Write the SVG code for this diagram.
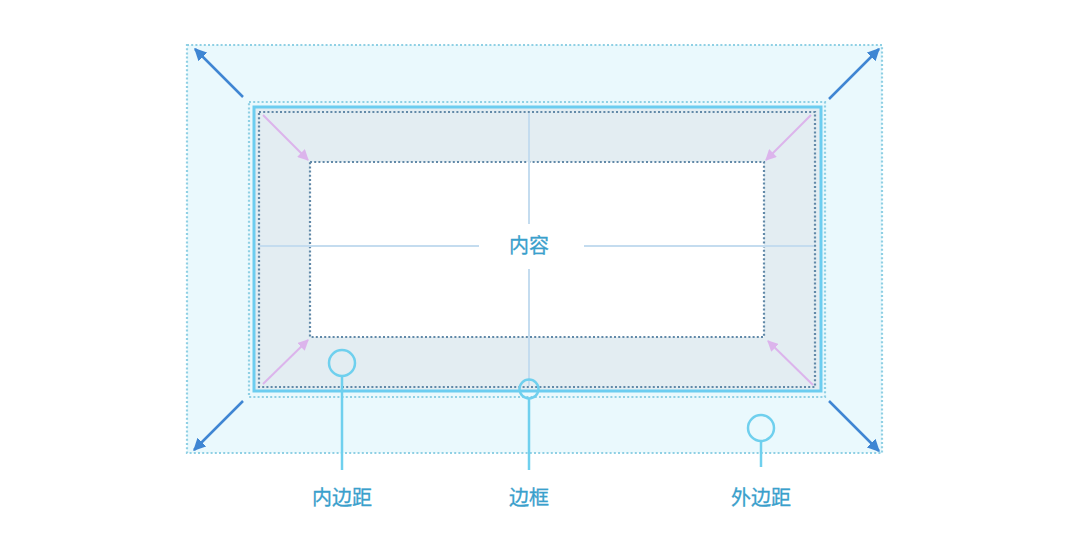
<svg xmlns="http://www.w3.org/2000/svg" width="1080" height="540" viewBox="0 0 1080 540">
<style>
.lt{stroke:#8fd0e4;stroke-width:2.2;stroke-dasharray:2 2.2}
.dk{stroke:#6189a8;stroke-width:2.2;stroke-dasharray:2 2.2}
.ar{stroke:#3f86d3;stroke-width:2.5;fill:none}
.pk{stroke:#dcb4ec;stroke-width:2;fill:none}
.cr{stroke:#c4dcef;stroke-width:2;fill:none}
.co{fill:none;stroke:#6fd0ee;stroke-width:2.5}
.lbl{font-family:"Noto Sans CJK SC","Noto Sans",sans-serif;font-size:20px;fill:#3aa0cc;stroke:#3aa0cc;stroke-width:0.3;text-anchor:middle}
</style>
<defs>
<marker id="ab" viewBox="0 0 10 10" refX="9" refY="5" markerWidth="5" markerHeight="5" orient="auto" markerUnits="strokeWidth">
<path d="M0,0 L10,5 L0,10 z" fill="#3f86d3"/>
</marker>
<marker id="ap" viewBox="0 0 10 10" refX="9" refY="5" markerWidth="5.5" markerHeight="5.5" orient="auto" markerUnits="strokeWidth">
<path d="M0,0 L10,5 L0,10 z" fill="#dcb4ec"/>
</marker>
</defs>
<rect width="1080" height="540" fill="#ffffff"/>
<g id="margin">
<rect x="187" y="45" width="695" height="408" style="fill:#eaf9fd" class="lt"/>
</g>
<g id="border">
<rect x="249" y="102" width="576" height="295" style="fill:#eaf9fd" class="lt"/>
<rect x="254" y="107" width="567" height="284" fill="#e3edf2" stroke="#6ccdf0" stroke-width="3"/>
</g>
<g id="padding">
<rect x="259" y="112" width="556" height="275" style="fill:#e3edf2" class="dk"/>
</g>
<g id="content">
<rect x="310" y="162" width="454" height="175" style="fill:#ffffff" class="dk"/>
</g>
<g id="connectors">
<line class="cr" x1="529" y1="113" x2="529" y2="224"/>
<line class="cr" x1="529" y1="269" x2="529" y2="386"/>
<line class="cr" x1="260" y1="246" x2="479" y2="246"/>
<line class="cr" x1="584" y1="246" x2="814" y2="246"/>
<line class="ar" x1="243" y1="97" x2="195" y2="49" marker-end="url(#ab)"/>
<line class="ar" x1="829" y1="99" x2="879" y2="49" marker-end="url(#ab)"/>
<line class="ar" x1="243" y1="401" x2="194" y2="450" marker-end="url(#ab)"/>
<line class="ar" x1="829" y1="401" x2="879" y2="451" marker-end="url(#ab)"/>
<line class="pk" x1="263" y1="115" x2="308" y2="160" marker-end="url(#ap)"/>
<line class="pk" x1="811" y1="115" x2="766" y2="160" marker-end="url(#ap)"/>
<line class="pk" x1="263" y1="384" x2="308" y2="340" marker-end="url(#ap)"/>
<line class="pk" x1="813" y1="385" x2="768" y2="341" marker-end="url(#ap)"/>
<line class="co" x1="342" y1="376" x2="342" y2="470"/>
<line class="co" x1="529" y1="399" x2="529" y2="470"/>
<line class="co" x1="761" y1="442" x2="761" y2="467"/>
</g>
<g id="label-content">
<text class="lbl" x="529" y="253">内容</text>
</g>
<g id="callout-padding">
<circle class="co" cx="342" cy="363" r="13"/>
<text class="lbl" x="342" y="505">内边距</text>
</g>
<g id="callout-border">
<circle class="co" cx="529" cy="389" r="9.5"/>
<text class="lbl" x="529" y="505">边框</text>
</g>
<g id="callout-margin">
<circle class="co" cx="761" cy="428" r="13"/>
<text class="lbl" x="761" y="505">外边距</text>
</g>
</svg>
